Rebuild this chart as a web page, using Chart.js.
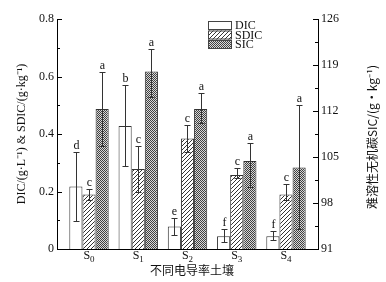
<!DOCTYPE html>
<html>
<head>
<meta charset="utf-8">
<script src="https://cdn.jsdelivr.net/npm/chart.js@4"></script>
<style>
  html, body { margin: 0; padding: 0; background: #fff; }
  #wrap { width: 386px; height: 282px; }
</style>
</head>
<body>
<div id="wrap"><canvas id="chart"></canvas></div>
<script>
// categories (S + subscript index)
const labels = ['S0', 'S1', 'S2', 'S3', 'S4'];

// DIC (g/L), left axis
const dic = [0.217, 0.428, 0.078, 0.044, 0.044];
const dicLo = [0.099, 0.288, 0.050, 0.026, 0.032];
const dicHi = [0.338, 0.571, 0.107, 0.069, 0.061];
const dicLetters = ['d', 'b', 'e', 'f', 'f'];

// SDIC (g/kg), left axis
const sdic = [0.190, 0.278, 0.384, 0.257, 0.190];
const sdicLo = [0.171, 0.200, 0.338, 0.246, 0.170];
const sdicHi = [0.208, 0.358, 0.430, 0.280, 0.226];
const sdicLetters = ['c', 'c', 'c', 'c', 'c'];

// SIC (g/kg), right axis
const sic = [112.3, 118.0, 112.3, 104.4, 103.4];
const sicLo = [106.7, 114.1, 110.1, 100.5, 94.0];
const sicHi = [117.9, 121.5, 114.7, 107.1, 112.9];
const sicLetters = ['a', 'a', 'a', 'a', 'a'];

// axis ticks
const leftTicks = [0, 0.2, 0.4, 0.6, 0.8];
const rightTicks = [91, 98, 105, 112, 119, 126];

const serif = "'Liberation Serif', 'Times New Roman', serif";

// fill patterns
function hatchPattern() {
    const c = document.createElement('canvas');
    c.width = 4; c.height = 4;
    const g = c.getContext('2d');
    g.fillStyle = '#fff';
    g.fillRect(0, 0, 4, 4);
    g.strokeStyle = '#333';
    g.lineWidth = 1;
    g.beginPath();
    g.moveTo(-1, 5); g.lineTo(5, -1);
    g.moveTo(-1, 1); g.lineTo(1, -1);
    g.moveTo(3, 5); g.lineTo(5, 3);
    g.stroke();
    return g.createPattern(c, 'repeat');
}

function meshPattern() {
    const c = document.createElement('canvas');
    c.width = 2; c.height = 2;
    const g = c.getContext('2d');
    g.fillStyle = '#d8d8d8';
    g.fillRect(0, 0, 2, 2);
    g.fillStyle = '#404040';
    g.fillRect(0, 0, 1, 1);
    g.fillRect(1, 1, 1, 1);
    return g.createPattern(c, 'repeat');
}

const hatch = hatchPattern();
const mesh = meshPattern();

function pts(vals) {
    return vals.map((v, i) => ({ x: i, y: v }));
}

// error bars, letters, inward ticks, titles and legend
const decorations = {
    id: 'decorations',
    afterDatasetsDraw(chart) {
        const ctx = chart.ctx;
        const area = chart.chartArea;
        const xs = chart.scales.x;
        const yL = chart.scales.y;
        const yR = chart.scales.y2;
        const sets = [
            [dicLo, dicHi, dicLetters, yL],
            [sdicLo, sdicHi, sdicLetters, yL],
            [sicLo, sicHi, sicLetters, yR]
        ];
        ctx.save();
        ctx.strokeStyle = '#333';
        ctx.lineWidth = 1;
        ctx.fillStyle = '#111';
        ctx.font = '12px ' + serif;
        ctx.textAlign = 'center';
        ctx.textBaseline = 'bottom';
        sets.forEach(function(s, d) {
            const meta = chart.getDatasetMeta(d);
            meta.data.forEach(function(bar, i) {
                const x = Math.round(bar.x) + 0.5;
                const top = Math.round(s[3].getPixelForValue(s[1][i])) + 0.5;
                const bot = Math.round(s[3].getPixelForValue(s[0][i])) + 0.5;
                ctx.beginPath();
                ctx.moveTo(x, top); ctx.lineTo(x, bot);
                ctx.moveTo(x - 3, top); ctx.lineTo(x + 3, top);
                ctx.moveTo(x - 3, bot); ctx.lineTo(x + 3, bot);
                ctx.stroke();
                ctx.fillText(s[2][i], x, top - 1);
            });
        });

        // inward ticks
        ctx.strokeStyle = '#000';
        ctx.beginPath();
        for (let v = 0; v <= 0.8001; v += 0.1) {
            const y = Math.round(yL.getPixelForValue(v)) + 0.5;
            const len = Math.round(v * 10) % 2 === 0 ? 5 : 3;
            ctx.moveTo(area.left, y); ctx.lineTo(area.left + len, y);
        }
        for (let v = 91; v <= 126.01; v += 3.5) {
            const y = Math.round(yR.getPixelForValue(v)) + 0.5;
            const len = Math.round((v - 91) / 3.5) % 2 === 0 ? 5 : 3;
            ctx.moveTo(area.right, y); ctx.lineTo(area.right - len, y);
        }
        ctx.stroke();

        // category labels with subscript
        ctx.fillStyle = '#111';
        ctx.textBaseline = 'alphabetic';
        labels.forEach(function(lab, i) {
            const cx = xs.getPixelForValue(i);
            ctx.font = '12px ' + serif;
            const w1 = ctx.measureText(lab[0]).width;
            ctx.font = '9px ' + serif;
            const w2 = ctx.measureText(lab.slice(1)).width;
            const x0 = cx - (w1 + w2) / 2;
            ctx.textAlign = 'left';
            ctx.font = '12px ' + serif;
            ctx.fillText(lab[0], x0, 259);
            ctx.font = '9px ' + serif;
            ctx.fillText(lab.slice(1), x0 + w1, 262);
        });

        // axis titles
        ctx.textAlign = 'center';
        ctx.textBaseline = 'middle';
        ctx.save();
        ctx.translate(22, 134);
        ctx.rotate(-Math.PI / 2);
        ctx.font = '12px ' + serif;
        ctx.fillText('DIC/(g·L⁻¹) & SDIC/(g·kg⁻¹)', 0, 0);
        ctx.restore();

        ctx.save();
        ctx.translate(372, 137);
        ctx.rotate(-Math.PI / 2);
        ctx.font = "12px 'Noto Sans CJK SC', 'Liberation Sans', sans-serif";
        ctx.fillText('难溶性无机碳SIC/(g·kg⁻¹)', 0, 0);
        ctx.restore();

        ctx.font = "12px 'Noto Sans CJK SC', sans-serif";
        ctx.fillText('不同电导率土壤', 192, 270);

        // legend
        const names = ['DIC', 'SDIC', 'SIC'];
        const fills = ['#fff', hatch, mesh];
        ctx.textAlign = 'left';
        ctx.font = '12px ' + serif;
        names.forEach(function(n, i) {
            const y = 21 + i * 9.5;
            ctx.fillStyle = fills[i];
            ctx.fillRect(208, y, 24, 9);
            ctx.strokeStyle = '#444';
            ctx.strokeRect(208.5, y + 0.5, 23, 8);
            ctx.fillStyle = '#111';
            ctx.fillText(n, 235, y + 5);
        });
        ctx.restore();
    }
};

new Chart(document.getElementById('chart'), {
    type: 'bar',
    data: {
        datasets: [
            {
                label: 'DIC',
                data: pts(dic),
                yAxisID: 'y',
                backgroundColor: '#fff',
                borderColor: '#333',
                borderWidth: 1
            },
            {
                label: 'SDIC',
                data: pts(sdic),
                yAxisID: 'y',
                backgroundColor: hatch,
                borderColor: '#333',
                borderWidth: 1
            },
            {
                label: 'SIC',
                data: pts(sic),
                yAxisID: 'y2',
                backgroundColor: mesh,
                borderColor: '#333',
                borderWidth: 1
            }
        ]
    },
    options: {
        responsive: true,
        maintainAspectRatio: false,
        animation: false,
        categoryPercentage: 0.8,
        barPercentage: 1.0,
        layout: { padding: { top: 19, left: 0, right: 0, bottom: 0 } },
        plugins: {
            legend: { display: false },
            tooltip: { enabled: false }
        },
        scales: {
            x: {
                type: 'linear',
                offset: false,
                min: -0.65,
                max: 4.65,
                afterBuildTicks: function(scale) {
                    scale.ticks = labels.map((_, i) => ({ value: i }));
                },
                afterFit: function(scale) { scale.height = 33; },
                grid: { display: false, drawTicks: false, offset: false },
                border: { display: true, color: '#000', width: 1 },
                ticks: { display: false }
            },
            y: {
                position: 'left',
                min: 0,
                max: 0.8,
                afterBuildTicks: function(scale) {
                    scale.ticks = leftTicks.map(v => ({ value: v }));
                },
                afterFit: function(scale) { scale.width = 57; },
                grid: { display: false, drawTicks: false },
                border: { display: true, color: '#000', width: 1 },
                ticks: {
                    color: '#111',
                    padding: 3,
                    font: { family: serif, size: 12 },
                    callback: function(v) { return v === 0 ? '0' : v.toFixed(1); }
                }
            },
            y2: {
                position: 'right',
                min: 91,
                max: 126,
                afterBuildTicks: function(scale) {
                    scale.ticks = rightTicks.map(v => ({ value: v }));
                },
                afterFit: function(scale) { scale.width = 68; },
                grid: { display: false, drawTicks: false },
                border: { display: true, color: '#000', width: 1 },
                ticks: {
                    color: '#111',
                    padding: 3,
                    font: { family: serif, size: 12 }
                }
            }
        }
    },
    plugins: [decorations]
});
</script>
</body>
</html>
